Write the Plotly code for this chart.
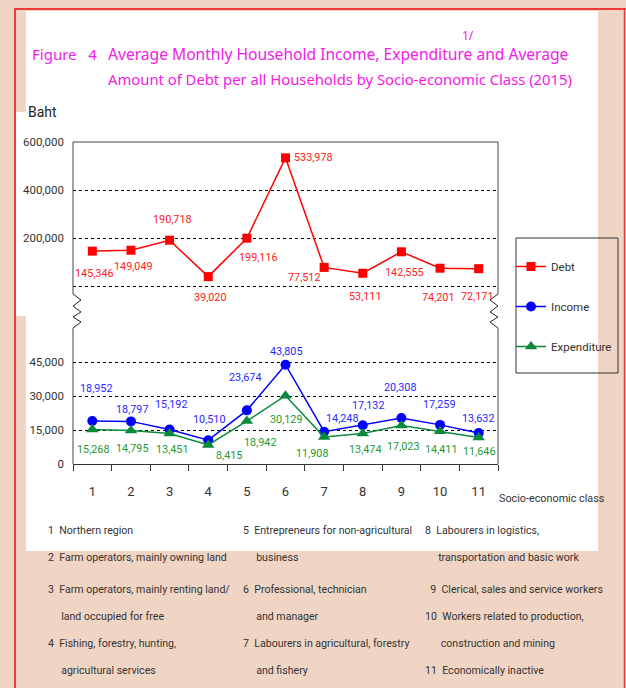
import plotly.graph_objects as go

# ---------------- data ----------------
classes = ["1", "2", "3", "4", "5", "6", "7", "8", "9", "10", "11"]
debt = [145346, 149049, 190718, 39020, 199116, 533978, 77512, 53111, 142555, 74201, 72171]
income = [18952, 18797, 15192, 10510, 23674, 43805, 14248, 17132, 20308, 17259, 13632]
expenditure = [15268, 14795, 13451, 8415, 18942, 30129, 11908, 13474, 17023, 14411, 11646]

top_ticks = [0, 200000, 400000, 600000]
top_ticktext = ["", "200,000", "400,000", "600,000"]
bot_ticks = [0, 15000, 30000, 45000]
bot_ticktext = ["0", "15,000", "30,000", "45,000"]

notes_col1 = ["1  Northern region", "2  Farm operators, mainly owning land",
              "3  Farm operators, mainly renting land/", "     land occupied for free",
              "4  Fishing, forestry, hunting,", "     agricultural services"]
notes_col2 = ["5  Entrepreneurs for non-agricultural", "     business",
              "6  Professional, technician", "     and manager",
              "7  Labourers in agricultural, forestry", "     and fishery"]
notes_col3 = ["8  Labourers in logistics,", "     transportation and basic work",
              "  9  Clerical, sales and service workers", "10  Workers related to production,",
              "      construction and mining", "11  Economically inactive"]

# label offsets (pixels)
debt_dx = [2, 3, 3, 2, 12, 28, -20, 2, 3, -2, -2]
debt_dy = [-22, -16, 21, -21, -19, 0, -10, -23, -21, -29, -28]
inc_dx = [4, 1, 1, 1, -2, 0, 18, 5, -1, -1, -1]
inc_dy = [33, 12, 25, 21, 33, 13, 13, 20, 30, 20, 15]
exp_dx = [1, 1, 2, 21, 13, 0, -12, 2, 2, 1, 0]
exp_dy = [-20, -18, -16, -11, -21, -24, -16, -16, -21, -18, -14]

# ---------------- geometry helpers ----------------
W, H = 626, 688
L, PR, T, B = 73, 626, 142, 464     # paper area (pixels)
AXR = 498                            # right end of the x axis (pixels)


def X(px):
    return (px - L) / (PR - L)


def Y(py):
    return (B - py) / (B - T)


NARROW = "Roboto, sans-serif"
TITLE_FONT = "Noto Sans, DejaVu Sans, sans-serif"
PEACH = "#F0D5C5"
RED_LINE = "#F03A3A"
MAGENTA = "#F020E8"
LABEL_SIZE = 10.8

fig = go.Figure()

fig.add_trace(go.Scatter(x=classes, y=debt, name="Debt", mode="lines+markers",
                         line=dict(color="#FF0000", width=1.5),
                         marker=dict(symbol="square", size=9, color="#FF0000"),
                         yaxis="y", legendgroup="a"))
fig.add_trace(go.Scatter(x=classes, y=income, name="Income", mode="lines+markers",
                         line=dict(color="#0000FF", width=1.5),
                         marker=dict(symbol="circle", size=10, color="#0000FF"),
                         yaxis="y2", legendgroup="b"))
fig.add_trace(go.Scatter(x=classes, y=expenditure, name="Expenditure", mode="lines+markers",
                         line=dict(color="#0A8A3A", width=1.5),
                         marker=dict(symbol="triangle-up", size=11, color="#0A8A3A"),
                         yaxis="y2", legendgroup="c"))

annotations = []
for i, (v, dx, dy) in enumerate(zip(debt, debt_dx, debt_dy)):
    annotations.append(dict(x=i, y=v, xref="x", yref="y", text=f"{v:,}", showarrow=False,
                            xshift=dx, yshift=dy, font=dict(family=NARROW, size=LABEL_SIZE, color="#FF2020")))
for i, (v, dx, dy) in enumerate(zip(income, inc_dx, inc_dy)):
    annotations.append(dict(x=i, y=v, xref="x", yref="y2", text=f"{v:,}", showarrow=False,
                            xshift=dx, yshift=dy, font=dict(family=NARROW, size=LABEL_SIZE, color="#2828FF")))
for i, (v, dx, dy) in enumerate(zip(expenditure, exp_dx, exp_dy)):
    annotations.append(dict(x=i, y=v, xref="x", yref="y2", text=f"{v:,}", showarrow=False,
                            xshift=dx, yshift=dy, font=dict(family=NARROW, size=LABEL_SIZE, color="#1E9A30")))

# titles
annotations += [
    dict(x=X(30), y=Y(54), xref="paper", yref="paper", xanchor="left", yanchor="middle",
         text="Figure&nbsp;&nbsp;&nbsp;4", showarrow=False, font=dict(family=TITLE_FONT, size=15, color=MAGENTA)),
    dict(x=X(106), y=Y(54), xref="paper", yref="paper", xanchor="left", yanchor="middle",
         text="Average Monthly Household Income, Expenditure and Average", showarrow=False,
         font=dict(family=TITLE_FONT, size=15.6, color=MAGENTA)),
    dict(x=X(106), y=Y(79), xref="paper", yref="paper", xanchor="left", yanchor="middle",
         text="Amount of Debt per all Households by Socio-economic Class (2015)", showarrow=False,
         font=dict(family=TITLE_FONT, size=14.8, color=MAGENTA)),
    dict(x=X(460), y=Y(36), xref="paper", yref="paper", xanchor="left", yanchor="middle",
         text="1/", showarrow=False, font=dict(family=TITLE_FONT, size=12, color=MAGENTA)),
    dict(x=X(26), y=Y(112), xref="paper", yref="paper", xanchor="left", yanchor="middle",
         text="Baht", showarrow=False, font=dict(family=NARROW, size=14, color="#222222")),
    dict(x=X(497), y=Y(498), xref="paper", yref="paper", xanchor="left", yanchor="middle",
         text="Socio-economic class", showarrow=False, font=dict(family=NARROW, size=10.8, color="#333333")),
]

rows_y = [530, 557, 589, 616, 643, 670]
for col_x, notes in ((46, notes_col1), (241, notes_col2), (423, notes_col3)):
    for yy, txt in zip(rows_y, notes):
        annotations.append(dict(x=X(col_x), y=Y(yy), xref="paper", yref="paper",
                                xanchor="left", yanchor="middle", text=txt.replace("  ", "&nbsp;&nbsp;"),
                                showarrow=False, font=dict(family=NARROW, size=10.6, color="#333333")))

# shapes
shapes = [
    dict(type="rect", xref="paper", yref="paper", x0=X(26), x1=X(598), y0=Y(11), y1=Y(551),
         fillcolor="white", line=dict(width=0), layer="below"),
    dict(type="rect", xref="paper", yref="paper", x0=X(15), x1=X(26), y0=Y(112), y1=Y(316),
         fillcolor="white", line=dict(width=0), layer="below"),
    dict(type="line", xref="paper", yref="paper", x0=X(15), x1=X(15), y0=Y(8), y1=Y(700),
         line=dict(color=RED_LINE, width=2)),
    dict(type="line", xref="paper", yref="paper", x0=X(14), x1=X(630), y0=Y(9), y1=Y(9),
         line=dict(color=RED_LINE, width=2)),
    dict(type="line", xref="paper", yref="paper", x0=X(624.5), x1=X(624.5), y0=Y(8), y1=Y(700),
         line=dict(color=RED_LINE, width=1.5)),
    # frame
    dict(type="line", xref="paper", yref="paper", x0=X(L), x1=X(AXR), y0=Y(T), y1=Y(T),
         line=dict(color="#444444", width=1)),
    dict(type="line", xref="paper", yref="paper", x0=X(L), x1=X(L), y0=Y(T), y1=Y(294),
         line=dict(color="#444444", width=1)),
    dict(type="line", xref="paper", yref="paper", x0=X(L), x1=X(L), y0=Y(328), y1=Y(B),
         line=dict(color="#444444", width=1)),
    dict(type="line", xref="paper", yref="paper", x0=X(AXR), x1=X(AXR), y0=Y(T), y1=Y(294),
         line=dict(color="#444444", width=1)),
    dict(type="line", xref="paper", yref="paper", x0=X(AXR), x1=X(AXR), y0=Y(328), y1=Y(B),
         line=dict(color="#444444", width=1)),
    # legend box
    dict(type="rect", xref="paper", yref="paper", x0=X(516), x1=X(618), y0=Y(238), y1=Y(373),
         line=dict(color="#333333", width=1), fillcolor="rgba(0,0,0,0)"),
]
zig_y = [294, 300, 306, 312, 317, 322, 328]
for base, dirx in ((L, 8), (AXR, -8)):
    pts = []
    for k, yy in enumerate(zig_y):
        xx = base + (dirx if k % 2 == 1 else 0)
        pts.append(f"{X(xx):.5f},{Y(yy):.5f}")
    path = "M " + " L ".join(pts)
    shapes.append(dict(type="path", xref="paper", yref="paper", path=path,
                       line=dict(color="#222222", width=1)))

fig.update_layout(
    width=W, height=H,
    margin=dict(l=L, r=W - PR, t=T, b=H - B, pad=0),
    paper_bgcolor=PEACH, plot_bgcolor="rgba(0,0,0,0)",
    showlegend=True,
    legend=dict(x=X(511), y=Y(252), xanchor="left", yanchor="top", bgcolor="rgba(0,0,0,0)",
                borderwidth=0, font=dict(family=NARROW, size=11.5, color="#333333"),
                tracegroupgap=21, traceorder="grouped", itemwidth=30),
    xaxis=dict(domain=[0, X(AXR)], type="category", categoryorder="array", categoryarray=classes,
               range=[-0.5, 10.5], showgrid=False, zeroline=False,
               showline=True, linecolor="#333333", linewidth=1,
               ticks="outside", tickson="boundaries", ticklen=6, tickcolor="#333333",
               ticklabelstandoff=15,
               tickfont=dict(family=NARROW, size=13, color="#333333"), anchor="y2"),
    yaxis=dict(domain=[Y(294), 1], range=[-33333, 600000], tickvals=top_ticks, ticktext=top_ticktext,
               showgrid=True, gridcolor="#000000", griddash="dot", gridwidth=1,
               zeroline=False, showline=False, ticks="", ticklabelstandoff=8,
               tickfont=dict(family=NARROW, size=11.5, color="#333333")),
    yaxis2=dict(domain=[0, Y(328)], range=[0, 60000], tickvals=bot_ticks, ticktext=bot_ticktext,
                showgrid=True, gridcolor="#000000", griddash="dot", gridwidth=1,
                zeroline=False, showline=False, ticks="", ticklabelstandoff=8,
                tickfont=dict(family=NARROW, size=11.5, color="#333333")),
    annotations=annotations,
    shapes=shapes,
)

fig.write_html("out.html", config={"displayModeBar": False},
               post_script="document.body.style.margin='0px';document.body.style.overflow='hidden';")
